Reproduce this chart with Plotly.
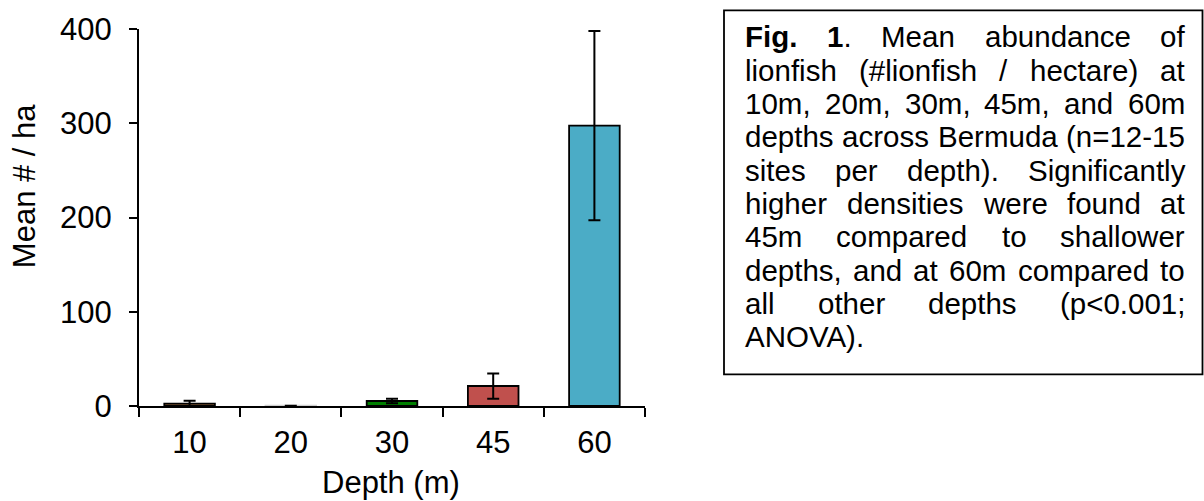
import plotly.graph_objects as go

# ---------------- data ----------------
depths = ["10", "20", "30", "45", "60"]
mean_per_ha = [2.5, 0.3, 5.3, 21.2, 297.5]
err_per_ha = [3.0, 0.0, 2.5, 13.4, 100.5]
bar_colors = ["#9C6B3E", "#BFBFBF", "#008000", "#C0504D", "#4BACC6"]
edge_colors = ["black", "#D0D0D0", "black", "black", "black"]
y_ticks = [0, 100, 200, 300, 400]

caption_lines = [
    ["<b>Fig.</b>", "<b>1</b>.", "Mean", "abundance", "of"],
    ["lionfish", "(#lionfish", "/", "hectare)", "at"],
    ["10m,", "20m,", "30m,", "45m,", "and", "60m"],
    ["depths", "across", "Bermuda", "(n=12-15"],
    ["sites", "per", "depth).", "Significantly"],
    ["higher", "densities", "were", "found", "at"],
    ["45m", "compared", "to", "shallower"],
    ["depths,", "and", "at", "60m", "compared", "to"],
    ["all", "other", "depths", "(p<0.001;"],
    ["ANOVA)."],
]

# ---------------- layout helpers ----------------
W, H = 1204, 501
PX0, PX1, PY0, PY1 = 139, 645, 27, 406  # plot area in pixels


def px(x):
    return (x - PX0) / (PX1 - PX0)


def py(y):
    return (PY1 - y) / (PY1 - PY0)


FONT = "Liberation Sans, Arial, sans-serif"
AW = {" ": 278, "#": 556, "(": 333, ")": 333, ",": 278, "-": 333, ".": 278,
      "/": 278, ";": 278, "<": 584, "=": 584, "A": 667, "B": 667, "F": 611,
      "M": 833, "N": 722, "O": 778, "S": 667, "V": 667,
      "a": 556, "b": 556, "c": 500, "d": 556, "e": 556, "f": 278, "g": 556,
      "h": 556, "i": 222, "j": 222, "k": 500, "l": 222, "m": 833, "n": 556,
      "o": 556, "p": 556, "q": 556, "r": 333, "s": 500, "t": 278, "u": 556,
      "v": 500, "w": 722, "x": 500, "y": 500, "z": 500}
BOLD = {"F": 611, "i": 278, "g": 611, ".": 278}


def word_width(w, size):
    bold = False
    total = 0
    i = 0
    while i < len(w):
        if w.startswith("<b>", i):
            bold = True; i += 3; continue
        if w.startswith("</b>", i):
            bold = False; i += 4; continue
        ch = w[i]
        if ch.isdigit():
            total += 556
        elif bold and ch in BOLD:
            total += BOLD[ch]
        else:
            total += AW.get(ch, 556)
        i += 1
    return total * size / 1000


CAP_SIZE = 29.5
TXT_L, TXT_R = 743, 1183
LINE0, PITCH = 35, 33.5
AX_FONT = 31

annotations = []
for k, words in enumerate(caption_lines):
    yk = LINE0 + PITCH * k
    widths = [word_width(w, CAP_SIZE) for w in words]
    if len(words) > 1 and k < len(caption_lines) - 1:
        gap = (TXT_R - TXT_L - sum(widths)) / (len(words) - 1)
    else:
        gap = word_width(" ", CAP_SIZE)
    x = TXT_L
    for w, ww in zip(words, widths):
        annotations.append(dict(
            x=px(x), y=py(yk), xref="paper", yref="paper", text=w,
            showarrow=False, xanchor="left", yanchor="middle",
            font=dict(family=FONT, size=CAP_SIZE, color="black")))
        x += ww + gap

annotations.append(dict(x=px(24), y=py(185), xref="paper", yref="paper",
                        text="Mean # / ha", textangle=-90, showarrow=False,
                        xanchor="center", yanchor="middle",
                        font=dict(family=FONT, size=AX_FONT, color="black")))
annotations.append(dict(x=px(391), y=py(483), xref="paper", yref="paper",
                        text="Depth (m)", showarrow=False,
                        xanchor="center", yanchor="middle",
                        font=dict(family=FONT, size=AX_FONT, color="black")))

fig = go.Figure()
fig.add_trace(go.Bar(
    x=depths, y=mean_per_ha, width=0.5,
    marker=dict(color=bar_colors, line=dict(color=edge_colors, width=1.8)),
    error_y=dict(type="data", array=err_per_ha, visible=True,
                 color="black", thickness=2, width=6),
    showlegend=False))

fig.update_layout(
    width=W, height=H,
    margin=dict(l=PX0, r=W - PX1, t=PY0, b=H - PY1, pad=0),
    plot_bgcolor="white", paper_bgcolor="white",
    font=dict(family=FONT, size=AX_FONT, color="black"),
    xaxis=dict(type="category", tickson="boundaries", ticks="outside",
               ticklen=9, tickwidth=2, tickcolor="black", showline=True,
               linecolor="black", linewidth=2, showgrid=False,
               ticklabelstandoff=8, tickfont=dict(size=AX_FONT)),
    yaxis=dict(range=[0, 400], tickvals=y_ticks, ticks="outside", ticklen=8,
               tickwidth=2, tickcolor="black", showline=True, linecolor="black",
               linewidth=2, showgrid=False, zeroline=False,
               ticklabelstandoff=11, tickfont=dict(size=AX_FONT)),
    annotations=annotations,
    shapes=[dict(type="rect", xref="paper", yref="paper",
                 x0=px(724), x1=px(1202.5), y0=py(374.3), y1=py(8.3),
                 line=dict(color="black", width=1.8))],
)

fig.write_html("out.html",
               config={"displayModeBar": False},
               post_script="document.body.style.margin='0';"
                           "document.body.style.overflow='hidden';")
